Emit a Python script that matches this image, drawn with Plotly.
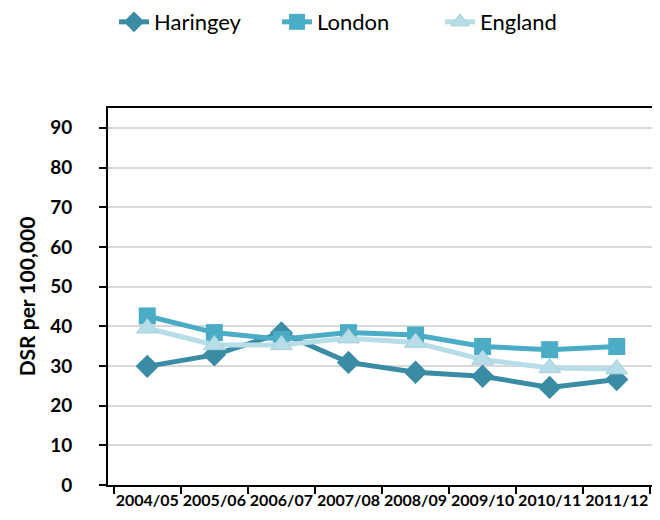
import plotly.graph_objects as go

categories = ["2004/05", "2005/06", "2006/07", "2007/08", "2008/09", "2009/10", "2010/11", "2011/12"]
haringey = [29.9, 32.8, 38.3, 30.9, 28.4, 27.4, 24.6, 26.6]
london = [42.6, 38.4, 36.7, 38.4, 37.8, 34.9, 34.1, 34.9]
england = [39.5, 35.3, 35.3, 37.0, 35.9, 31.6, 29.5, 29.2]
y_ticks = [0, 10, 20, 30, 40, 50, 60, 70, 80, 90]

FONT = "Lato"

fig = go.Figure()
fig.add_trace(go.Scatter(x=categories, y=haringey, name="Haringey", mode="lines+markers",
                         line=dict(color="#3a8ca4", width=5),
                         marker=dict(symbol="diamond", size=18, color="#3a8ca4")))
fig.add_trace(go.Scatter(x=categories, y=london, name="London", mode="lines+markers",
                         line=dict(color="#4bacc6", width=5),
                         marker=dict(symbol="square", size=17, color="#4bacc6")))
fig.add_trace(go.Scatter(x=categories, y=england, name="England", mode="lines+markers",
                         line=dict(color="#b7dde8", width=5),
                         marker=dict(symbol="triangle-up", size=19, color="#b7dde8",
                                     line=dict(color="#a5cfdc", width=1))))

# page body has an 8px default margin, so the figure is 8px smaller than the window
fig.update_layout(
    width=652, height=512,
    margin=dict(l=100, r=4, t=100, b=35, autoexpand=False),
    paper_bgcolor="white", plot_bgcolor="white",
    font=dict(family=FONT, color="black"),
    showlegend=True,
    legend=dict(orientation="h", x=0.011, xanchor="left", y=1.228, yanchor="middle",
                font=dict(size=22, family=FONT),
                entrywidth=118, entrywidthmode="pixels", traceorder="normal"),
    xaxis=dict(type="category", tickson="boundaries", ticks="outside", ticklen=7,
               tickcolor="black", tickwidth=2, showline=True, linecolor="black", linewidth=2,
               mirror=True, showgrid=False, automargin=False, tickangle=0,
               tickfont=dict(size=16, family=FONT, weight="bold")),
    yaxis=dict(range=[0, 95], tickvals=y_ticks, ticks="outside", ticklen=7, tickcolor="black",
               tickwidth=2, showline=True, linecolor="black", linewidth=2, mirror=True,
               showgrid=True, gridcolor="#d9d9d9", gridwidth=1.5, zeroline=False,
               automargin=False, ticklabelstandoff=23,
               tickfont=dict(size=19, family=FONT, weight="bold"),
               title=dict(text="DSR per 100,000", font=dict(size=21, family=FONT, weight="bold"),
                          standoff=9)),
)

fig.write_html("out.html")
